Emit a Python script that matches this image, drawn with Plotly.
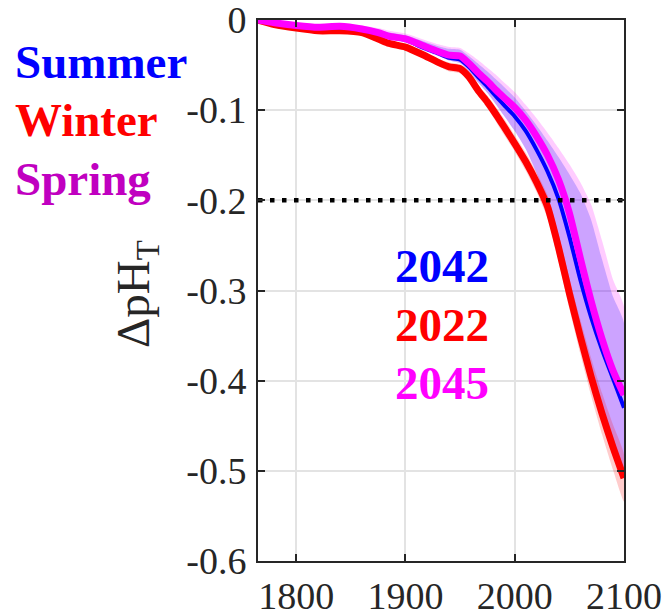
import plotly.graph_objects as go

years = [1765, 1780, 1800, 1820, 1840, 1860, 1875, 1885, 1900, 1915, 1930, 1940, 1950, 1958,
         1967, 1975, 1983, 1990, 2000, 2010, 2020, 2030, 2040, 2050, 2060, 2070, 2080, 2090, 2100]

summer = [0, -0.003, -0.007, -0.009, -0.008, -0.011, -0.015, -0.019, -0.022, -0.030, -0.037, -0.042,
          -0.044, -0.052, -0.064, -0.074, -0.085, -0.094, -0.107, -0.123, -0.144, -0.168, -0.198,
          -0.240, -0.288, -0.330, -0.366, -0.398, -0.430]
winter = [0, -0.005, -0.009, -0.012, -0.012, -0.014, -0.021, -0.026, -0.030, -0.038, -0.047, -0.052,
          -0.054, -0.063, -0.079, -0.091, -0.105, -0.118, -0.137, -0.157, -0.180, -0.207, -0.252,
          -0.303, -0.351, -0.396, -0.437, -0.474, -0.508]
spring = [0, -0.003, -0.006, -0.008, -0.007, -0.010, -0.014, -0.018, -0.021, -0.028, -0.035, -0.039,
          -0.040, -0.048, -0.059, -0.068, -0.078, -0.086, -0.097, -0.111, -0.129, -0.150, -0.177,
          -0.214, -0.264, -0.312, -0.354, -0.389, -0.416]

summer_hi = [0, -0.002, -0.004, -0.006, -0.005, -0.007, -0.011, -0.014, -0.017, -0.023, -0.029, -0.032,
             -0.033, -0.040, -0.049, -0.057, -0.066, -0.074, -0.086, -0.101, -0.117, -0.134, -0.152,
             -0.171, -0.192, -0.222, -0.266, -0.307, -0.336]
summer_lo = [0, -0.003, -0.008, -0.010, -0.009, -0.012, -0.016, -0.020, -0.024, -0.033, -0.040, -0.045,
             -0.048, -0.057, -0.070, -0.081, -0.094, -0.106, -0.123, -0.143, -0.170, -0.203, -0.242,
             -0.290, -0.343, -0.390, -0.432, -0.468, -0.500]
spring_hi = [0, -0.001, -0.003, -0.005, -0.004, -0.006, -0.009, -0.012, -0.015, -0.021, -0.027, -0.030,
             -0.031, -0.037, -0.045, -0.053, -0.061, -0.069, -0.080, -0.094, -0.109, -0.125, -0.142,
             -0.160, -0.180, -0.205, -0.245, -0.288, -0.318]
spring_lo = [0, -0.003, -0.008, -0.010, -0.009, -0.012, -0.016, -0.020, -0.024, -0.033, -0.040, -0.045,
             -0.048, -0.057, -0.070, -0.081, -0.094, -0.106, -0.123, -0.143, -0.170, -0.203, -0.242,
             -0.290, -0.343, -0.390, -0.432, -0.468, -0.500]
winter_hi = [0, -0.004, -0.008, -0.011, -0.010, -0.012, -0.019, -0.023, -0.027, -0.034, -0.043, -0.047,
             -0.049, -0.057, -0.073, -0.084, -0.097, -0.109, -0.128, -0.147, -0.169, -0.194, -0.237,
             -0.286, -0.332, -0.375, -0.414, -0.449, -0.482]
winter_lo = [0, -0.006, -0.010, -0.013, -0.014, -0.016, -0.023, -0.029, -0.033, -0.042, -0.051, -0.057,
             -0.059, -0.069, -0.085, -0.098, -0.113, -0.127, -0.146, -0.167, -0.191, -0.220, -0.267,
             -0.320, -0.370, -0.417, -0.460, -0.499, -0.534]

threshold = -0.2
threshold_years = [1765, 2100]

x_tickvals = [1800, 1900, 2000, 2100]
x_ticktext = ["1800", "1900", "2000", "2100"]
y_tickvals = [0, -0.1, -0.2, -0.3, -0.4, -0.5, -0.6]
y_ticktext = ["0", "-0.1", "-0.2", "-0.3", "-0.4", "-0.5", "-0.6"]

season_labels = ["Summer", "Winter", "Spring"]
season_colors = ["#0000ff", "#ff0000", "#c000c0"]
cross_labels = ["2042", "2022", "2045"]
cross_colors = ["#0000ff", "#ff0000", "#ff00ff"]

SERIF = "Liberation Serif"

fig = go.Figure()


def band(lo, hi, color):
    fig.add_trace(go.Scatter(
        x=years + years[::-1], y=hi + lo[::-1], fill="toself", fillcolor=color,
        line=dict(width=0, shape="spline", smoothing=0.6), mode="lines",
        hoverinfo="skip", showlegend=False))


band(spring_lo, spring_hi, "rgba(255,0,255,0.2)")
band(summer_lo, summer_hi, "rgba(0,0,255,0.2)")
band(winter_lo, winter_hi, "rgba(255,0,0,0.2)")

fig.add_trace(go.Scatter(x=years, y=winter, mode="lines",
                         line=dict(color="#ff0000", width=7, shape="spline", smoothing=0.6),
                         showlegend=False))
fig.add_trace(go.Scatter(x=years, y=summer, mode="lines",
                         line=dict(color="#0000ff", width=4, shape="spline", smoothing=0.6),
                         showlegend=False))
fig.add_trace(go.Scatter(x=years, y=spring, mode="lines",
                         line=dict(color="#ff00ff", width=7, shape="spline", smoothing=0.6),
                         showlegend=False))
fig.add_trace(go.Scatter(x=threshold_years, y=[threshold, threshold], mode="lines",
                         line=dict(color="black", width=4.5, dash="4.5px,7.5px"), showlegend=False))

axis_common = dict(showline=True, linecolor="#262626", linewidth=2, mirror="ticks",
                   ticks="inside", ticklen=7, tickwidth=2, tickcolor="#262626",
                   showgrid=True, gridcolor="#e3e3e3", gridwidth=1.5, zeroline=False,
                   automargin=False, ticklabeloverflow="allow",
                   tickfont=dict(family=SERIF, size=38, color="#262626"))

fig.update_xaxes(range=[1765, 2100], tickvals=x_tickvals, ticktext=x_ticktext,
                 ticklabelstandoff=0, **axis_common)
fig.update_yaxes(range=[-0.6, 0], tickvals=y_tickvals, ticktext=y_ticktext,
                 ticklabelstandoff=2, **axis_common)

L, R, T, B = 258, 45, 20, 54
W, H = 669, 615
pw, ph = W - L - R, H - T - B


def px(xp):
    return (xp - L) / pw


def py(yp):
    return (H - B - yp) / ph


annotations = []
season_y = [62, 120, 179]
for lab, col, yy in zip(season_labels, season_colors, season_y):
    annotations.append(dict(text=lab, x=px(13), y=py(yy), xref="paper", yref="paper",
                            xanchor="left", yanchor="middle", showarrow=False,
                            font=dict(family=SERIF, size=47, weight=700, color=col)))
cross_y = [266, 325, 383]
for lab, col, yy in zip(cross_labels, cross_colors, cross_y):
    annotations.append(dict(text=lab, x=px(491), y=py(yy), xref="paper", yref="paper",
                            xanchor="right", yanchor="middle", showarrow=False,
                            font=dict(family=SERIF, size=47, weight=700, color=col)))
annotations.append(dict(text="ΔpH<sub>T</sub>", x=px(136), y=py(294), xref="paper", yref="paper",
                        xanchor="center", yanchor="middle", textangle=-90, showarrow=False,
                        font=dict(family=SERIF, size=47, color="#262626")))

fig.update_layout(width=W, height=H, margin=dict(l=L, r=R, t=T, b=B),
                  plot_bgcolor="white", paper_bgcolor="white", annotations=annotations,
                  showlegend=False)

fig.write_html("out.html")
